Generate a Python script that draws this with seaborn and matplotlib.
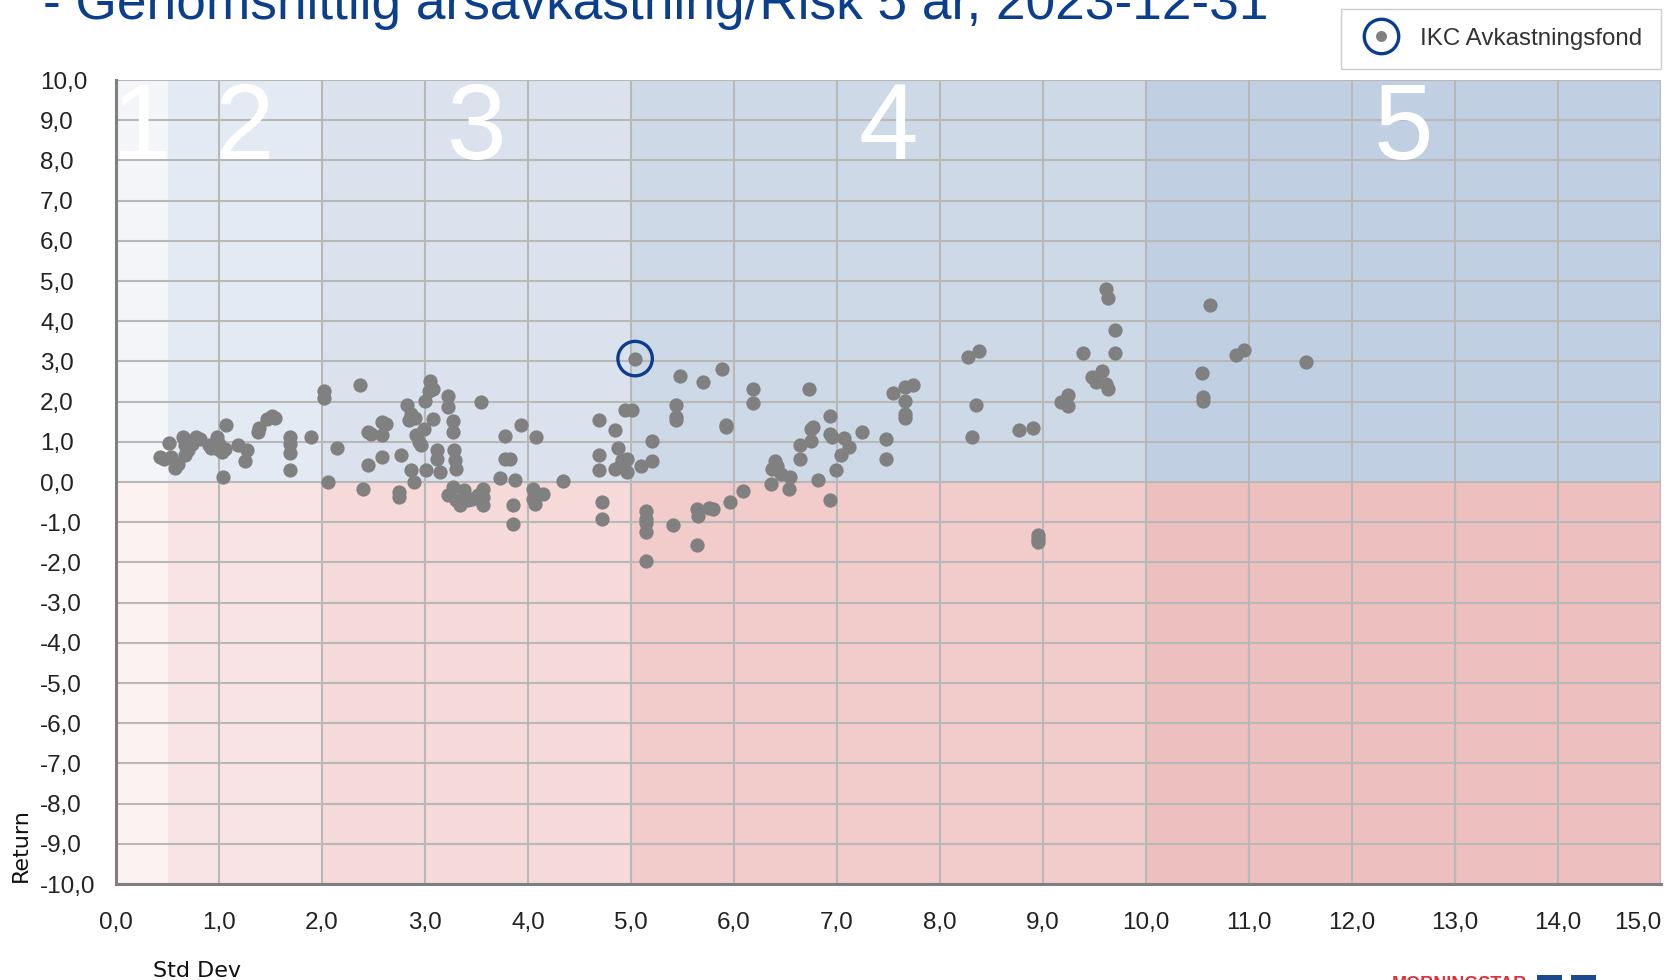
import matplotlib
matplotlib.use("Agg")
import matplotlib.pyplot as plt
import seaborn as sns
from matplotlib.lines import Line2D
from matplotlib.patches import Rectangle
from matplotlib.legend_handler import HandlerTuple

# ---------------- data ----------------
title = "- Genomsnittlig årsavkastning/Risk 5 år, 2023-12-31"
x_label = "Std Dev"
y_label = "Return"
fund_name = "IKC Avkastningsfond"

std_dev = [
    0.43, 0.47, 0.53, 0.51, 0.57, 0.60, 0.65, 0.67, 0.67, 0.70, 0.72, 0.74, 0.78, 0.82,
    0.90, 0.92, 0.98, 0.99, 1.00, 1.03, 1.06, 1.07, 1.04, 1.18, 1.27, 1.25, 1.38, 1.39,
    1.47, 1.51, 1.54, 1.69, 1.69, 1.69, 1.69, 1.89,
    2.02, 2.02, 2.06, 2.15, 2.37, 2.40, 2.45, 2.48, 2.45, 2.58, 2.62, 2.58, 2.58, 2.75,
    2.75, 2.77, 2.83, 2.86, 2.84, 2.90, 2.86, 2.89, 2.91, 2.94, 2.96, 2.99, 3.05, 3.04,
    3.08, 3.00, 3.08, 3.01, 3.12, 3.12, 3.15, 3.22, 3.22, 3.27, 3.27, 3.28, 3.29, 3.30,
    3.22, 3.27, 3.30, 3.34, 3.38, 3.42, 3.46, 3.51, 3.56, 3.56, 3.56, 3.54, 3.78, 3.93,
    4.08, 3.78, 3.83, 3.73, 3.87, 3.85, 3.85, 4.05, 4.05, 4.07, 4.15, 4.34, 4.69, 4.84,
    4.87, 4.69, 4.69, 4.84, 4.91, 4.96, 4.96, 4.90, 4.94, 5.01, 4.72, 4.72,
    5.10, 5.20, 5.20, 5.15, 5.15, 5.15, 5.15, 5.15, 5.41, 5.44, 5.44, 5.44, 5.48, 5.64,
    5.65, 5.64, 5.70, 5.76, 5.80, 5.88, 5.92, 5.92, 5.96, 6.09, 6.18, 6.18, 6.36, 6.40,
    6.37, 6.42, 6.46, 6.54, 6.53, 6.64, 6.64, 6.75, 6.73, 6.77, 6.75, 6.82, 6.93, 6.93,
    6.95, 6.93, 6.99, 7.07, 7.12, 7.04, 7.24, 7.48, 7.48, 7.54, 7.66, 7.74, 7.66, 7.66,
    7.66, 8.27, 8.38, 8.35, 8.31, 8.77, 8.90, 8.95, 8.95, 8.95, 9.17, 9.24, 9.24, 9.39,
    9.48, 9.51, 9.57, 9.61, 9.63, 9.61, 9.63, 9.70, 9.70,
    10.54, 10.55, 10.55, 10.62, 10.87, 10.95, 11.55,
]
returns = [
    0.62, 0.58, 0.62, 0.97, 0.35, 0.46, 1.12, 0.91, 0.68, 0.80, 1.00, 0.95, 1.13, 1.08,
    0.91, 0.85, 1.12, 0.83, 0.95, 0.75, 0.83, 1.42, 0.12, 0.91, 0.79, 0.51, 1.24, 1.34,
    1.57, 1.64, 1.60, 1.13, 0.95, 0.72, 0.29, 1.12,
    2.27, 2.08, 0.00, 0.84, 2.41, -0.17, 1.24, 1.20, 0.43, 1.49, 1.45, 1.17, 0.62, -0.25,
    -0.37, 0.68, 1.92, 1.70, 1.53, 1.60, 0.29, 0.00, 1.16, 0.99, 0.91, 1.32, 2.52, 2.27,
    2.31, 2.02, 1.57, 0.29, 0.79, 0.58, 0.25, 2.13, 1.86, 1.52, 1.25, 0.79, 0.54, 0.32,
    -0.33, -0.12, -0.46, -0.58, -0.21, -0.46, -0.42, -0.33, -0.17, -0.37, -0.57, 1.98, 1.15, 1.42,
    1.12, 0.58, 0.58, 0.10, 0.06, -0.57, -1.04, -0.17, -0.42, -0.55, -0.29, 0.02, 1.53, 1.30,
    0.85, 0.68, 0.29, 0.33, 0.54, 0.58, 0.25, 0.42, 1.80, 1.80, -0.50, -0.91,
    0.40, 0.51, 1.01, -0.73, -0.91, -1.03, -1.24, -1.97, -1.06, 1.92, 1.61, 1.53, 2.64, -0.66,
    -0.84, -1.57, 2.48, -0.64, -0.68, 2.81, 1.42, 1.36, -0.50, -0.23, 2.31, 1.97, -0.04, 0.51,
    0.33, 0.40, 0.21, 0.12, -0.17, 0.91, 0.58, 1.01, 2.31, 1.36, 1.32, 0.06, 1.64, 1.20,
    1.12, -0.45, 0.29, 1.09, 0.87, 0.68, 1.24, 1.07, 0.58, 2.21, 2.36, 2.41, 2.02, 1.69,
    1.59, 3.10, 3.26, 1.92, 1.12, 1.30, 1.34, -1.33, -1.42, -1.49, 1.99, 2.16, 1.88, 3.22,
    2.61, 2.49, 2.76, 2.45, 2.31, 4.80, 4.58, 3.78, 3.22,
    2.70, 2.12, 2.01, 4.40, 3.15, 3.28, 2.99,
]
fund_std = [5.04]
fund_ret = [3.07]

zone_edges = [0, 0.5, 2, 5, 10, 15]
zone_labels = ["1", "2", "3", "4", "5"]
x_ticks = list(range(0, 16))
y_ticks = list(range(-10, 11))
x_tick_labels = [f"{v},0" for v in x_ticks]
y_tick_labels = [f"{v},0" for v in y_ticks]

# ---------------- style ----------------
sns.set_style("white")
plt.rcParams["font.family"] = ["Liberation Sans", "DejaVu Sans"]

pos_colors = ["#f3f5f9", "#e4eaf3", "#dbe2ed", "#cdd9e7", "#c0cfe2"]
neg_colors = ["#fcf2f2", "#f8e4e4", "#f6d9d9", "#f2cbcb", "#eebfbf"]
dot_color = "#808080"
ring_color = "#0b3d8c"
axis_color = "#7f7f7f"

W, H = 1667, 980
fig = plt.figure(figsize=(W / 100, H / 100), dpi=100)
ax = fig.add_axes([116 / W, 1 - 884 / H, (1661 - 116) / W, (884 - 80) / H])

for i in range(len(zone_labels)):
    x0, x1 = zone_edges[i], zone_edges[i + 1]
    ax.fill_between([x0, x1], 0, 10, color=pos_colors[i], lw=0, zorder=0)
    ax.fill_between([x0, x1], -10, 0, color=neg_colors[i], lw=0, zorder=0)
    ax.text((x0 + x1) / 2, 9.98, zone_labels[i], ha="center", va="top",
            fontsize=77, color="white", zorder=2)

sns.scatterplot(x=std_dev, y=returns, color=dot_color, s=105, linewidth=0,
                ax=ax, zorder=4, legend=False)
sns.scatterplot(x=fund_std, y=fund_ret, color=dot_color, s=105, linewidth=0,
                ax=ax, zorder=5, legend=False)
ax.scatter(fund_std, fund_ret, s=615, facecolors="none", edgecolors=ring_color,
           linewidths=2.4, zorder=6)

ax.set_xlim(0, 15)
ax.set_ylim(-10, 10)
ax.set_xticks(x_ticks)
ax.set_yticks(y_ticks)
ax.set_xticklabels(x_tick_labels)
ax.set_yticklabels(y_tick_labels, ha="left")
ax.get_xticklabels()[-1].set_ha("right")
ax.set_axisbelow(True)
ax.grid(True, color="#b8b8b8", lw=1.5)

for s in ["top", "right"]:
    ax.spines[s].set_visible(False)
for s in ["left", "bottom"]:
    ax.spines[s].set_color(axis_color)
    ax.spines[s].set_linewidth(2.2)

ax.tick_params(axis="y", length=12.2, width=2.2, color=axis_color, pad=42.5,
               labelsize=17.5, labelcolor="#222222")
ax.tick_params(axis="x", length=10, width=2.2, color=axis_color, pad=10,
               labelsize=17.5, labelcolor="#222222")
ax.set_xlabel("")
ax.set_ylabel("")

fig.text(43 / W, 1 - 18.5 / H, title, ha="left", va="baseline", fontsize=38.3,
         color="#0b3f8c")
fig.text(153 / W, 1 - 977 / H, x_label, ha="left", va="baseline", fontsize=16,
         family=["DejaVu Sans"], color="#111111")
fig.text(21 / W, 1 - 882 / H, y_label, ha="center", va="bottom", rotation=90,
         fontsize=16, family=["DejaVu Sans"], color="#111111")

ring = Line2D([], [], marker="o", ls="", ms=24.8, mfc="none", mec=ring_color, mew=2.4)
dot = Line2D([], [], marker="o", ls="", ms=7.9, mfc=dot_color, mec="none")
leg = fig.legend([(ring, dot)], [fund_name],
                 handler_map={tuple: HandlerTuple(ndivide=1, pad=0)},
                 loc="upper right", bbox_to_anchor=(1661 / W, 1 - 9 / H),
                 frameon=True, fancybox=False, edgecolor="#cccccc", framealpha=1,
                 fontsize=17.4, borderpad=0.78, handlelength=1.7, handletextpad=0.78,
                 borderaxespad=0, labelcolor="#333333")
leg.get_frame().set_linewidth(1.0)

# partially visible logo at the bottom edge
fig.text(1392 / W, 1 - 976 / H, "MORNINGSTAR", ha="left", va="top", fontsize=13,
         fontweight="bold", color="#e0303a")
for x0 in [1537, 1571]:
    fig.add_artist(Rectangle((x0 / W, 0), 25 / W, 5 / H, transform=fig.transFigure,
                             color="#1d4a8f", lw=0))

fig.savefig("out.png", dpi=100)
